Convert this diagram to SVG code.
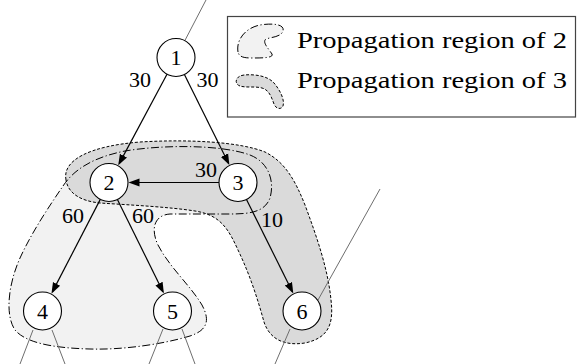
<svg xmlns="http://www.w3.org/2000/svg" width="577" height="364" viewBox="0 0 577 364">
<defs>
<style>
.node circle{fill:#fff;stroke:#000;stroke-width:1.1}
.lbl{font-size:22px;fill:#000;text-anchor:middle}
.leg{font-size:24px;fill:#000}
.edge{stroke:#000;stroke-width:1.2;fill:none;marker-end:url(#arr)}
.tail{stroke:#6e6e6e;stroke-width:1;fill:none}
.r2f{fill:#f2f2f2;stroke:none}
.r3f{fill:#dadada;stroke:none}
.r2s{fill:none;stroke:#000;stroke-width:1;stroke-dasharray:8 2.5 1.2 2.5}
.r3s{fill:none;stroke:#000;stroke-width:1;stroke-dasharray:3 1.8}
</style>
<marker id="arr" markerUnits="userSpaceOnUse" markerWidth="12" markerHeight="10" viewBox="0 0 12 10" refX="9" refY="5" orient="auto">
<path d="M0,1 L11,5 L0,9 Z" fill="#000"/>
</marker>
<path id="reg2" d="M 63,186 C 75,168 95,157 125,151 C 160,145 220,144 250,155 C 268,162 275,180 270,198 C 265,212 250,214 230,214 L 170,214 C 155,215 150,228 158,245 C 170,268 190,285 202,305 C 210,320 208,330 190,336 C 160,345 120,350 90,349 C 50,348 25,342 15,330 C 5,315 8,285 20,258 C 32,232 48,208 63,186 Z"/>
<path id="reg3" d="M 66,180 C 62,160 90,146 140,142 C 190,139 240,142 265,152 C 285,162 295,180 305,205 C 318,240 328,270 331,300 C 334,325 328,338 305,343 C 285,346 270,340 264,322 C 258,300 250,275 238,250 C 228,228 220,215 195,211 C 170,207 130,205 100,203 C 80,201 68,193 66,180 Z"/>
</defs>
<g id="regions">
<use href="#reg2" class="r2f"/>
<use href="#reg3" class="r3f"/>
<use href="#reg3" class="r3s"/>
<use href="#reg2" class="r2s"/>
</g>
<g font-family="Liberation Serif, Times New Roman, DejaVu Serif, serif">
<g id="connectors">
<line class="tail" x1="184.8" y1="40.7" x2="206" y2="0"/>
<line class="tail" x1="318" y1="300" x2="380" y2="189"/>
<line class="tail" x1="290" y1="329" x2="275" y2="364"/>
<line class="tail" x1="33" y1="330" x2="20" y2="364"/>
<line class="tail" x1="52" y1="330" x2="65" y2="364"/>
<line class="tail" x1="163" y1="329" x2="149" y2="364"/>
<line class="tail" x1="182" y1="329" x2="195" y2="364"/>
<line class="edge" x1="167" y1="74.2" x2="119.2" y2="163.6"/>
<line class="edge" x1="184.4" y1="74.5" x2="228.5" y2="163.2"/>
<line class="edge" x1="219" y1="182.5" x2="130.5" y2="182.5"/>
<line class="edge" x1="100.3" y1="199.4" x2="52.4" y2="291.9"/>
<line class="edge" x1="117.4" y1="199.5" x2="163" y2="291.7"/>
<line class="edge" x1="246.5" y1="199.5" x2="292.4" y2="291.8"/>
<text class="lbl" x="140" y="87">30</text>
<text class="lbl" x="207.5" y="87">30</text>
<text class="lbl" x="206" y="177">30</text>
<text class="lbl" x="73" y="223">60</text>
<text class="lbl" x="143" y="223">60</text>
<text class="lbl" x="272" y="227">10</text>
</g>
<g id="n1" class="node"><circle cx="176" cy="57.5" r="19"/><text class="lbl" x="176" y="65">1</text></g>
<g id="n2" class="node"><circle cx="109" cy="182.5" r="19"/><text class="lbl" x="109" y="190">2</text></g>
<g id="n3" class="node"><circle cx="238" cy="182.5" r="19"/><text class="lbl" x="238" y="190">3</text></g>
<g id="n4" class="node"><circle cx="42.5" cy="311" r="19"/><text class="lbl" x="42.5" y="318.5">4</text></g>
<g id="n5" class="node"><circle cx="172.5" cy="311" r="19"/><text class="lbl" x="172.5" y="318.5">5</text></g>
<g id="n6" class="node"><circle cx="302" cy="311" r="19"/><text class="lbl" x="302" y="318.5">6</text></g>
<g id="legend">
<rect x="227.5" y="16.5" width="348" height="100.5" fill="#fff" stroke="#444" stroke-width="1.2"/>
<path class="r2f" d="M 238,52 C 236,40 245,28 260,25 C 272,23 285,24 283,31 C 281,37 272,37 266,39 C 262,42 268,48 272,54 C 274,58 262,58 252,58 C 244,58 239,57 238,52 Z"/>
<path class="r2s" d="M 238,52 C 236,40 245,28 260,25 C 272,23 285,24 283,31 C 281,37 272,37 266,39 C 262,42 268,48 272,54 C 274,58 262,58 252,58 C 244,58 239,57 238,52 Z"/>
<path class="r3f" d="M 240,86 C 234,84 235,76 244,75 C 255,74 268,76 274,83 C 280,90 285,100 283,106 C 281,110 276,109 274,104 C 271,96 269,90 262,88 C 255,86 246,88 240,86 Z"/>
<path class="r3s" d="M 240,86 C 234,84 235,76 244,75 C 255,74 268,76 274,83 C 280,90 285,100 283,106 C 281,110 276,109 274,104 C 271,96 269,90 262,88 C 255,86 246,88 240,86 Z"/>
<text class="leg" x="297" y="48" textLength="270" lengthAdjust="spacingAndGlyphs">Propagation region of 2</text>
<text class="leg" x="297" y="88" textLength="270" lengthAdjust="spacingAndGlyphs">Propagation region of 3</text>
</g>
</g>
</svg>
